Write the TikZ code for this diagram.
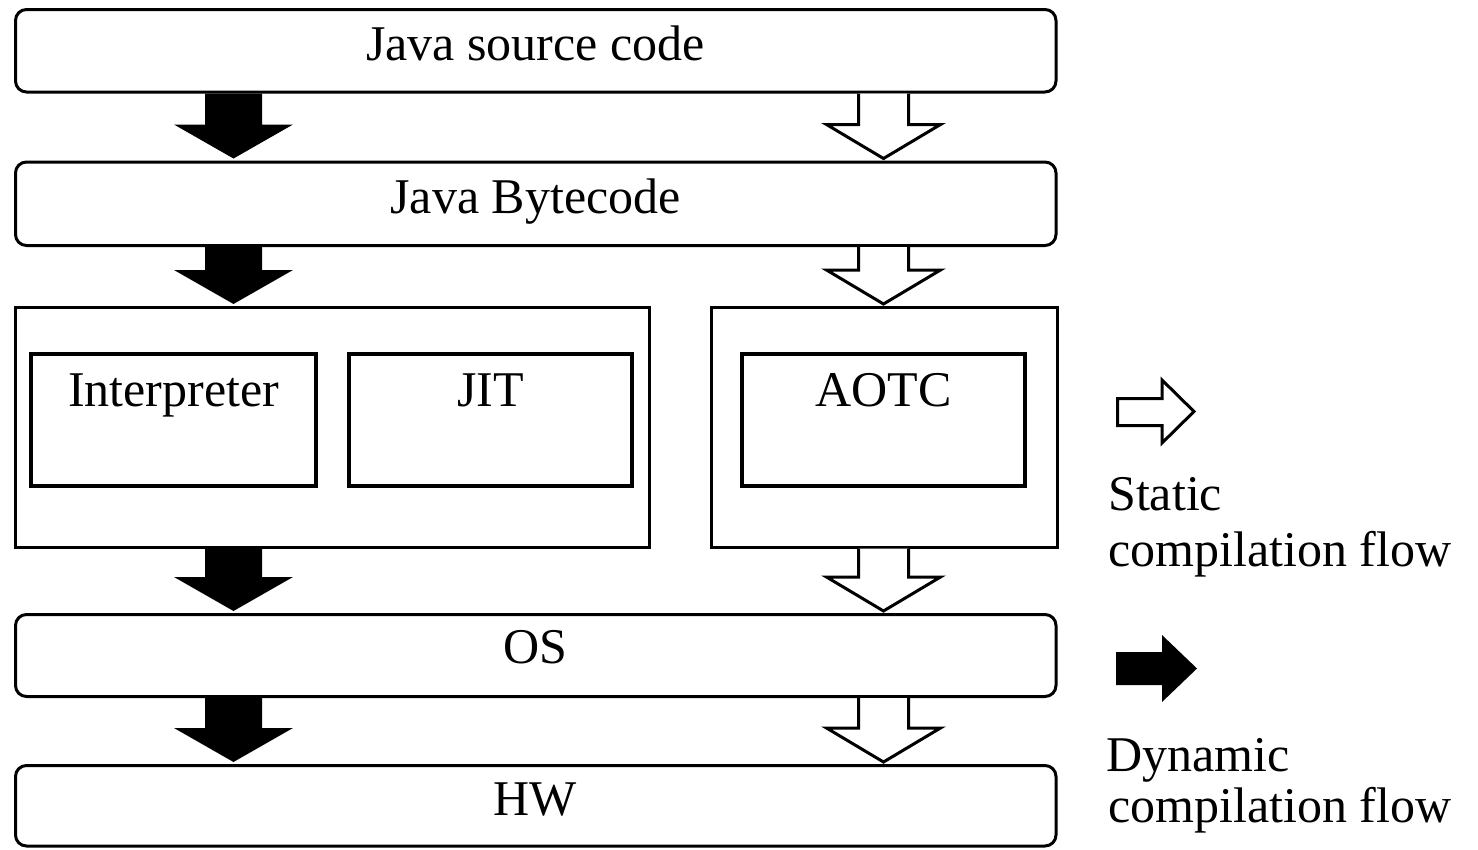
\documentclass[tikz,border=0pt]{standalone}
\usepackage{fontspec}
\setmainfont{Liberation Serif}
\usetikzlibrary{fit,calc}

% Block arrow between two stacked boxes:
% #1 style, #2 centre x, #3 shaft half width, #4 head half width,
% #5 upper node, #6 lower node
\newcommand\flowarrow[6]{%
  \path[#1] let \p1=(#5.south), \p2=(#6.north) in
    (#2-#3,\y1) -- (#2-#3,\y2+36pt) -- (#2-#4,\y2+36pt) -- (#2,\y2+2pt)
    -- (#2+#4,\y2+36pt) -- (#2+#3,\y2+36pt) -- (#2+#3,\y1);
}

\begin{document}
\begin{tikzpicture}[x=1pt,y=-1pt,
  layerbox/.style={draw, line width=3pt, rounded corners=11pt, inner sep=0pt},
  framebox/.style={draw, line width=3pt, inner sep=0pt},
  unitbox/.style={draw, line width=4.5pt, inner sep=0pt},
  lbl/.style={anchor=base, inner sep=0pt, font=\fontsize{50}{56}\selectfont},
  legendtext/.style={lbl, anchor=base west},
  dynflow/.style={fill=black},
  statflow/.style={fill=white, draw=black, line width=3pt, line join=miter},
]
\useasboundingbox (0,0) rectangle (1478,849);

% layers
\node[layerbox, fit={(15.5,9.5) (1056,92)}]   (src)  {};
\node[layerbox, fit={(15.5,162) (1056,245.5)}] (byte) {};
\node[framebox, fit={(15.5,307.5) (649,547)}]  (vm)   {};
\node[framebox, fit={(711,307.5) (1057,547)}]  (aot)  {};
\node[unitbox, fit={(31,354) (316,486)}]       (interp) {};
\node[unitbox, fit={(349,354) (632,486)}]      (jit)  {};
\node[unitbox, fit={(742,354) (1025,486)}]     (aotc) {};
\node[layerbox, fit={(15.5,614.5) (1056,696.5)}] (os) {};
\node[layerbox, fit={(15.5,765.5) (1056,846)}]   (hw) {};

% labels
\node[lbl] (tsrc)    at (535.5,60)  {Java source code};
\node[lbl] (tbyte)   at (535.5,213) {Java Bytecode};
\node[lbl] (tinterp) at (173.5,406) {Interpreter};
\node[lbl] (tjit)    at (490.5,406) {JIT};
\node[lbl] (taotc)   at (883.5,406) {AOTC};
\node[lbl] (tos)     at (535.5,663) {OS};
\node[lbl] (thw)     at (535.5,815) {HW};

% dynamic compilation flow (filled arrows)
\flowarrow{dynflow}{233.5}{28.5}{59.5}{src}{byte}
\flowarrow{dynflow}{233.5}{28.5}{59.5}{byte}{vm}
\flowarrow{dynflow}{233.5}{28.5}{59.5}{vm}{os}
\flowarrow{dynflow}{233.5}{28.5}{59.5}{os}{hw}

% static compilation flow (outlined arrows)
\flowarrow{statflow}{883.5}{25}{57}{src}{byte}
\flowarrow{statflow}{883.5}{25}{57}{byte}{aot}
\flowarrow{statflow}{883.5}{25}{57}{aot}{os}
\flowarrow{statflow}{883.5}{25}{57}{os}{hw}

% legend
\draw[statflow] (1117.5,398.5) -- (1162,398.5) -- (1162,380) -- (1194,411.5)
  -- (1162,443) -- (1162,425.5) -- (1117.5,425.5) -- cycle;
\node[legendtext] (st1) at (1108,510) {Static};
\node[legendtext] (st2) at (1108,566) {compilation flow};

\fill[dynflow] (1116,652) -- (1162,652) -- (1162,635) -- (1197,668.5)
  -- (1162,702) -- (1162,685) -- (1116,685) -- cycle;
\node[legendtext] (dy1) at (1106,771) {Dynamic};
\node[legendtext] (dy2) at (1108,822) {compilation flow};
\end{tikzpicture}
\end{document}
